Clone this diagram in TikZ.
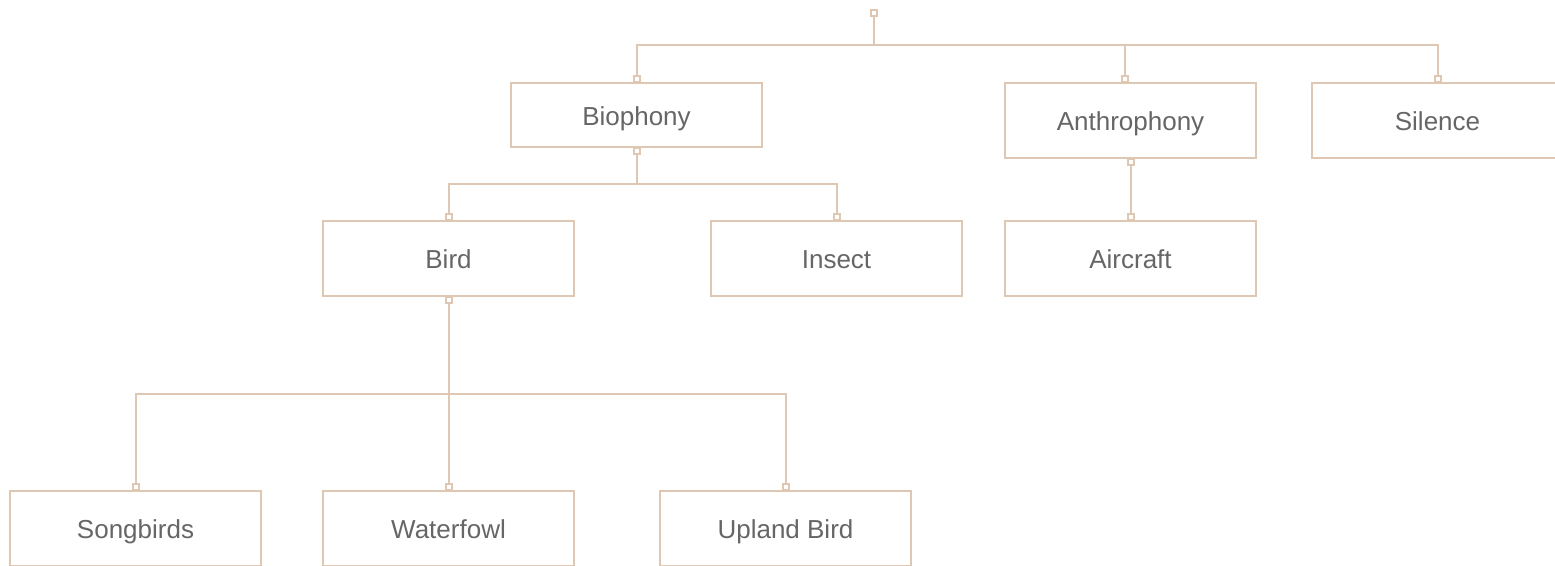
\documentclass[tikz,border=0pt]{standalone}
\usepackage{fontspec}
\setmainfont{Liberation Sans}
\usetikzlibrary{arrows.meta,positioning}
\definecolor{linetan}{RGB}{222,200,180}
\definecolor{ink}{RGB}{102,102,102}

\begin{document}
\begin{tikzpicture}[x=1pt,y=-1pt,% pixel units, y grows downward
			every node/.style={
				align=center,
				text=ink,
				font=\fontsize{26}{30}\selectfont
			},
			box/.style={rectangle,draw=linetan,line width=2pt,fill=white,
				minimum width=251pt,minimum height=75pt,inner sep=0pt,outer sep=0pt,
				text height=25pt,text depth=5pt},% same baseline for every label
			link/.style={draw=linetan,line width=2pt,
				{Square[open,length=8pt,width=8pt]}-{Square[open,length=8pt,width=8pt]}}
		]
		\useasboundingbox (0,0) rectangle (1555,565);
		\clip (0,0) rectangle (1555,565);
		\coordinate (top) at (874,9);
		% first level
		\node[box,minimum height=64pt](bio) at (636.5,115) {Biophony};
		\node[box](anthro) at (1130.5,120.5) {Anthrophony};
		\node[box](silence)[right=56pt of anthro]{Silence};
		% second level
		\node[box](aircraft)[below=63pt of anthro]{Aircraft};
		\node[box](insect)[left=43pt of aircraft]{Insect};
		\node[box](bird)[left=137pt of insect]{Bird};
		% third level
		\node[box](waterfowl)[below=195pt of bird]{Waterfowl};
		\node[box](songbirds)[left=62pt of waterfowl]{Songbirds};
		\node[box](upland)[right=86pt of waterfowl]{Upland Bird};
		% connectors
		\draw[link] (top) -- ++(0,36) -| (bio.north);
		\draw[link] (top) -- ++(0,36) -| ([xshift=-6pt]anthro.north);
		\draw[link] (top) -- ++(0,36) -| (silence.north);
		\draw[link] (bio.south) -- ++(0,37) -| (bird.north);
		\draw[link] (bio.south) -- ++(0,37) -| (insect.north);
		\draw[link] (anthro.south) -- (aircraft.north);
		\draw[link] (bird.south) -- ++(0,98) -| (songbirds.north);
		\draw[link] (bird.south) -- (waterfowl.north);
		\draw[link] (bird.south) -- ++(0,98) -| (upland.north);
	\end{tikzpicture}
\end{document}
